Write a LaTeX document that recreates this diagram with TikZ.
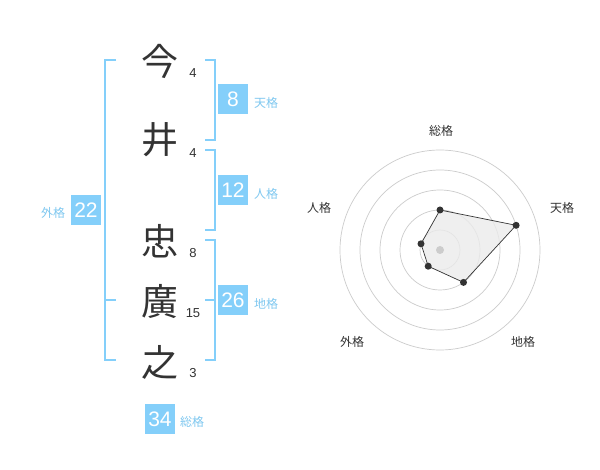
\documentclass[tikz,border=0pt]{standalone}
\usepackage{fontspec}
\setmainfont{Liberation Sans}
\newfontfamily\jp{Noto Sans CJK JP}
\definecolor{blu}{HTML}{84CFFA}
\definecolor{lblu}{HTML}{7FC8F0}
\definecolor{ink}{HTML}{333333}
\definecolor{ring}{HTML}{CCCCCC}
\begin{document}
\begin{tikzpicture}[x=1pt,y=-1pt,
  kanji/.style={font=\jp\fontsize{37}{37}\selectfont,text=ink,inner sep=0pt},
  strokes/.style={font=\fontsize{13}{13}\selectfont,text=ink,inner sep=0pt},
  valbox/.style={fill=blu,text=white,minimum width=30pt,minimum height=30pt,inner sep=0pt,font=\fontsize{21}{21}\selectfont},
  kaku/.style={font=\jp\fontsize{12}{12}\selectfont,text=lblu,inner sep=0pt},
  axlab/.style={font=\jp\fontsize{12}{12}\selectfont,text=ink,inner sep=0pt},
  brk/.style={draw=blu,line width=2pt},
  dot/.style={circle,fill=ink,minimum size=7pt,inner sep=0pt}]
\useasboundingbox (0,0) rectangle (600,470);
\fill[white] (0,0) rectangle (600,470);
% characters
\node[kanji] (c1) at (160,61) {今};
\node[kanji] (c2) at (160,140) {井};
\node[kanji] (c3) at (160,241) {忠};
\node[kanji] (c4) at (160,301) {廣};
\node[kanji] (c5) at (160,362) {之};
\node[strokes] (s1) at (193,73) {4};
\node[strokes] (s2) at (193,153) {4};
\node[strokes] (s3) at (193,253) {8};
\node[strokes] (s4) at (193,313) {15};
\node[strokes] (s5) at (193,373) {3};
% brackets
\draw[brk] (116,60) -- (105,60) -- (105,360) -- (116,360);
\draw[brk] (105,300) -- (116,300);
\draw[brk] (205,60) -- (215,60) -- (215,140) -- (205,140);
\draw[brk] (205,150) -- (215,150) -- (215,230) -- (205,230);
\draw[brk] (205,240) -- (215,240) -- (215,360) -- (205,360);
\draw[brk] (205,300) -- (215,300);
% value boxes
\node[valbox] (ten) at (233,99) {8};
\node[kaku] (tenl) at (266,103) {天格};
\node[valbox] (jin) at (233,190) {12};
\node[kaku] (jinl) at (266,194) {人格};
\node[valbox] (chi) at (233,300) {26};
\node[kaku] (chil) at (266,304) {地格};
\node[valbox] (gai) at (86,210) {22};
\node[kaku] (gail) at (53,213) {外格};
\node[valbox] (sou) at (160,419) {34};
\node[kaku] (soul) at (192,422) {総格};
% radar
\coordinate (ctr) at (440,250);
\foreach \r in {20,40,60,80,100} \draw[ring,line width=0.7pt] (ctr) circle[radius=\r];
\coordinate (pS) at (440,210);
\coordinate (pT) at (516.1,225.3);
\coordinate (pC) at (463.5,282.4);
\coordinate (pG) at (428.2,266.2);
\coordinate (pJ) at (421.0,243.8);
\filldraw[fill=black!8,fill opacity=0.8,draw=ink,line width=0.7pt] (pS) -- (pT) -- (pC) -- (pG) -- (pJ) -- cycle;
\fill[ring] (ctr) circle[radius=4];
\foreach \p in {pS,pT,pC,pG,pJ} \node[dot] at (\p) {};
\node[axlab] (aS) at (441,131) {総格};
\node[axlab] (aT) at (562,208) {天格};
\node[axlab] (aJ) at (319,208) {人格};
\node[axlab] (aG) at (352,342) {外格};
\node[axlab] (aC) at (523,342) {地格};
\end{tikzpicture}
\end{document}
